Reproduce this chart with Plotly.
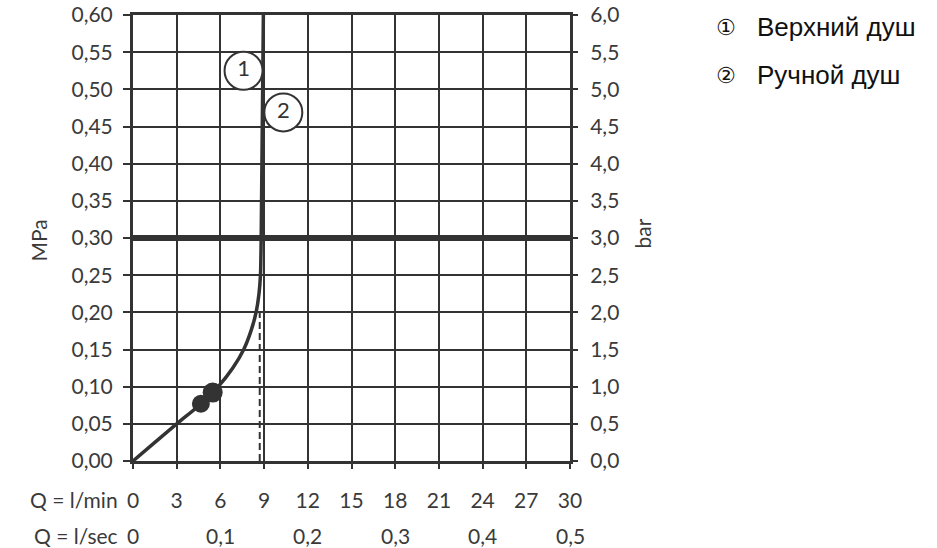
import plotly.graph_objects as go

# ---- data ----
flow_lpm = [0, 1.5, 3.0, 4.55, 5.85, 6.85, 7.6, 8.1, 8.45, 8.65, 8.75, 8.78, 8.8, 8.85, 8.95]
pressure_mpa = [0, 0.025, 0.05, 0.075, 0.10, 0.125, 0.15, 0.175, 0.20, 0.225, 0.25, 0.275, 0.30, 0.40, 0.60]
dot_flow = [4.66, 5.47]
dot_pressure = [0.077, 0.092]
ref_flow = [0, 30]
ref_pressure = [0.30, 0.30]
rated_flow = [8.7, 8.7]
rated_pressure = [0, 0.204]
curve_ids = ["1", "2"]
curve_label_flow = [7.59, 10.32]
curve_label_pressure = [0.525, 0.469]
legend_marks = ["\u2460", "\u2461"]
legend_names = ["Верхний душ", "Ручной душ"]

lpm_ticks = [0, 3, 6, 9, 12, 15, 18, 21, 24, 27, 30]
lpm_labels = ["0", "3", "6", "9", "12", "15", "18", "21", "24", "27", "30"]
lps_ticks = [0, 6, 12, 18, 24, 30]
lps_labels = ["0", "0,1", "0,2", "0,3", "0,4", "0,5"]
mpa_ticks = [0, 0.05, 0.10, 0.15, 0.20, 0.25, 0.30, 0.35, 0.40, 0.45, 0.50, 0.55, 0.60]
mpa_labels = ["0,00", "0,05", "0,10", "0,15", "0,20", "0,25", "0,30", "0,35", "0,40", "0,45", "0,50", "0,55", "0,60"]
bar_ticks = [0, 0.5, 1.0, 1.5, 2.0, 2.5, 3.0, 3.5, 4.0, 4.5, 5.0, 5.5, 6.0]
bar_labels = ["0,0", "0,5", "1,0", "1,5", "2,0", "2,5", "3,0", "3,5", "4,0", "4,5", "5,0", "5,5", "6,0"]

INK = "#333333"
TXT = "#3a3a3a"
FONT = "Lato"
TICKFONT = dict(family=FONT, size=21, color=TXT, weight=400)

fig = go.Figure()

fig.add_trace(go.Scatter(x=ref_flow, y=ref_pressure, mode="lines",
                         line=dict(color=INK, width=6), hoverinfo="skip"))
fig.add_trace(go.Scatter(x=rated_flow, y=rated_pressure, mode="lines",
                         line=dict(color=INK, width=2, dash="7px,4px"), hoverinfo="skip"))
fig.add_trace(go.Scatter(x=flow_lpm, y=pressure_mpa, mode="lines",
                         line=dict(color=INK, width=3.5, shape="spline", smoothing=1.0)))
fig.add_trace(go.Scatter(x=dot_flow, y=dot_pressure, mode="markers",
                         marker=dict(color=INK, size=[18, 20], opacity=1,
                                     line=dict(width=0))))
fig.add_trace(go.Scatter(x=curve_label_flow, y=curve_label_pressure, mode="markers+text",
                         text=curve_ids, textposition="middle center",
                         textfont=dict(family=FONT, size=22, color=INK, weight=400),
                         marker=dict(color="white", size=38, opacity=1,
                                     line=dict(color=INK, width=2))))
# right axis carrier (invisible)
fig.add_trace(go.Scatter(x=[0, 30], y=[0, 6], yaxis="y2", mode="markers",
                         marker=dict(opacity=0), hoverinfo="skip"))

fig.update_layout(
    width=937, height=548,
    margin=dict(l=133, r=367, t=15, b=87),
    paper_bgcolor="white", plot_bgcolor="white",
    showlegend=False,
    font=dict(family=FONT, size=21, color=TXT),
    xaxis=dict(range=[0, 30], tickvals=lpm_ticks, ticktext=lpm_labels,
               showgrid=True, gridcolor=INK, gridwidth=2, zeroline=False,
               showline=True, linecolor=INK, linewidth=3, mirror=True,
               ticks="outside", ticklen=5, tickwidth=2, tickcolor=INK,
               ticklabelstandoff=14, automargin=False,
               tickfont=TICKFONT),
    yaxis=dict(range=[0, 0.6], tickvals=mpa_ticks, ticktext=mpa_labels,
               showgrid=True, gridcolor=INK, gridwidth=2, zeroline=False,
               showline=True, linecolor=INK, linewidth=3, mirror=True,
               ticks="outside", ticklen=7, tickwidth=2, tickcolor=INK,
               ticklabelstandoff=6, automargin=False, ticklabeloverflow="allow",
               tickfont=TICKFONT),
    yaxis2=dict(range=[0, 6], tickvals=bar_ticks, ticktext=bar_labels,
                overlaying="y", side="right", showgrid=False, zeroline=False,
                showline=False,
                ticks="outside", ticklen=7, tickwidth=2, tickcolor=INK,
                ticklabelstandoff=8, automargin=False, ticklabeloverflow="allow",
                tickfont=TICKFONT),
)

annotations = []
annotations.append(dict(text="MPa", xref="paper", yref="paper", x=-0.217, y=0.495,
                        textangle=-90, showarrow=False, xanchor="center", yanchor="middle",
                        font=TICKFONT))
annotations.append(dict(text="bar", xref="paper", yref="paper", x=1.167, y=0.51,
                        textangle=-90, showarrow=False, xanchor="center", yanchor="middle",
                        font=TICKFONT))
annotations.append(dict(text="Q = l/min", xref="paper", yref="paper", x=-0.03, y=-0.0874,
                        showarrow=False, xanchor="right", yanchor="middle",
                        font=TICKFONT))
annotations.append(dict(text="Q = l/sec", xref="paper", yref="paper", x=-0.03, y=-0.166,
                        showarrow=False, xanchor="right", yanchor="middle",
                        font=TICKFONT))
for xv, lab in zip(lps_ticks, lps_labels):
    annotations.append(dict(text=lab, xref="x", yref="paper", x=xv, y=-0.166,
                            showarrow=False, xanchor="center", yanchor="middle",
                            font=TICKFONT))
legend_y = [0.973, 0.865]
for mark, name, yv in zip(legend_marks, legend_names, legend_y):
    annotations.append(dict(text=mark, xref="paper", yref="paper", x=1.357, y=yv,
                            showarrow=False, xanchor="center", yanchor="middle",
                            font=dict(family="DejaVu Sans", size=22, color="#111111")))
    annotations.append(dict(text=name, xref="paper", yref="paper", x=1.423, y=yv,
                            showarrow=False, xanchor="left", yanchor="middle",
                            font=dict(family="Liberation Sans", size=26, color="#111111")))
fig.update_layout(annotations=annotations)

fig.write_html("out.html", config={"displayModeBar": False},
               post_script="document.body.style.margin='0px';")
